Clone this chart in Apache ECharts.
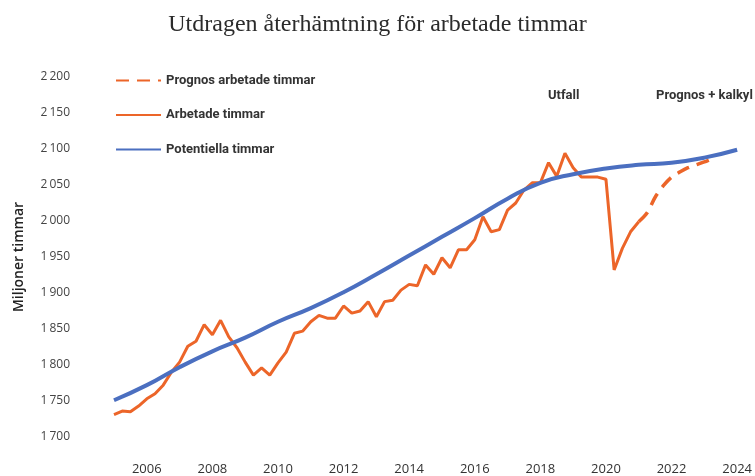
<!DOCTYPE html>
<html>
<head>
<meta charset="utf-8">
<script src="https://cdn.jsdelivr.net/npm/echarts@6/dist/echarts.min.js"></script>
<style>
  html, body { margin: 0; padding: 0; background: #fff; }
  #main { width: 755px; height: 476px; }
</style>
</head>
<body>
<div id="main"></div>
<script>
// kvartalsdata, start 2005 kv1
const startYear = 2005
const arbetade = [
  1731, 1736, 1735, 1743, 1753, 1760, 1772, 1790,
  1804, 1826, 1833, 1856, 1842, 1862, 1839, 1824,
  1804, 1786, 1796, 1786, 1803, 1818, 1844, 1847,
  1860, 1869, 1865, 1865, 1882, 1872, 1875, 1888,
  1867, 1888, 1890, 1904, 1912, 1910, 1939, 1926,
  1949, 1935, 1960, 1960, 1974, 2006, 1985, 1988,
  2015, 2025, 2043, 2053, 2053, 2081, 2062, 2094,
  2074, 2061, 2061, 2061, 2058, 1932, 1962, 1985,
  1999
]
// prognos, start 2021 kv1
const prognosStart = 2021
const prognos = [1999, 2011, 2033, 2049, 2061, 2068, 2074, 2078, 2082, 2087]
// potentiella timmar, årsvärden
const years = [2005, 2006, 2007, 2008, 2009, 2010, 2011, 2012, 2013, 2014,
  2015, 2016, 2017, 2018, 2019, 2020, 2021, 2022, 2023, 2024]
const potentiella = [1751, 1772, 1797, 1819, 1838, 1860, 1879, 1901, 1926, 1952,
  1978, 2004, 2031, 2053, 2065, 2073, 2078, 2081, 2088, 2099]
const yearLabels = [2006, 2008, 2010, 2012, 2014, 2016, 2018, 2020, 2022, 2024]

const orange = '#ec6529'
const blue = '#4b6fc0'

function fmtThousands(v) {
  return Math.floor(v / 1000) + '\u2009' + String(v % 1000).padStart(3, '0')
}

const chart = echarts.init(document.getElementById('main'))
chart.setOption({
  animation: false,
  title: {
    text: 'Utdragen återhämtning för arbetade timmar',
    left: 'center',
    top: 8,
    textStyle: {
      fontFamily: 'Liberation Serif',
      fontSize: 24,
      fontWeight: 'normal',
      color: '#2b2b2b'
    }
  },
  legend: {
    orient: 'vertical',
    left: 110,
    top: 69,
    itemWidth: 45,
    itemHeight: 14,
    itemGap: 21.5,
    itemStyle: { opacity: 0 },
    data: ['Prognos arbetade timmar', 'Arbetade timmar', 'Potentiella timmar'],
    textStyle: {
      fontFamily: 'Roboto',
      fontWeight: 'bold',
      fontSize: 13,
      color: '#333'
    }
  },
  grid: { left: 114, right: 17, top: 77, bottom: 39 },
  xAxis: {
    type: 'value',
    min: 2005,
    max: 2024,
    axisLine: { show: false },
    axisTick: { show: false },
    splitLine: { show: false },
    axisLabel: {
      customValues: yearLabels,
      margin: 26,
      fontFamily: 'Open Sans',
      fontSize: 13,
      color: '#333',
      formatter: v => String(v)
    }
  },
  yAxis: {
    type: 'value',
    min: 1700,
    max: 2200,
    interval: 50,
    name: 'Miljoner timmar',
    nameLocation: 'middle',
    nameGap: 88,
    nameTextStyle: {
      fontFamily: 'Open Sans',
      fontSize: 14,
      fontWeight: 600,
      color: '#222'
    },
    axisLine: { show: false },
    axisTick: { show: false },
    splitLine: { show: false },
    axisLabel: {
      margin: 44,
      fontFamily: 'Open Sans',
      fontSize: 12,
      color: '#444',
      formatter: fmtThousands
    }
  },
  graphic: [
    { type: 'text', left: 548, top: 89, style: { text: 'Utfall', font: 'bold 13px Roboto', fill: '#333' } },
    { type: 'text', left: 656, top: 89, style: { text: 'Prognos + kalkyl', font: 'bold 13px Roboto', fill: '#333' } }
  ],
  series: [
    {
      name: 'Prognos arbetade timmar',
      type: 'line',
      symbol: 'none',
      smooth: 0.3,
      lineStyle: { color: orange, width: 3.5, type: [13, 8] },
      itemStyle: { color: orange },
      data: prognos.map((v, i) => [prognosStart + i / 4, v])
    },
    {
      name: 'Arbetade timmar',
      type: 'line',
      symbol: 'none',
      lineStyle: { color: orange, width: 3 },
      itemStyle: { color: orange },
      data: arbetade.map((v, i) => [startYear + i / 4, v])
    },
    {
      name: 'Potentiella timmar',
      type: 'line',
      symbol: 'none',
      smooth: true,
      z: 3,
      lineStyle: { color: blue, width: 4 },
      itemStyle: { color: blue },
      data: years.map((y, i) => [y, potentiella[i]])
    }
  ]
})
</script>
</body>
</html>
